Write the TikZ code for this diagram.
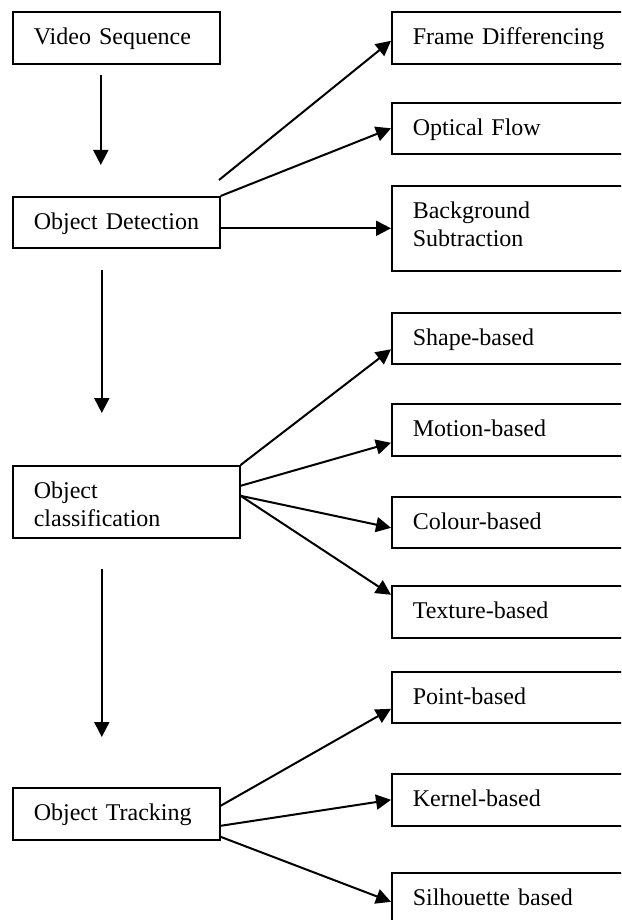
\documentclass[tikz,border=0pt]{standalone}
\usepackage{fontspec}
\setmainfont{Liberation Serif}
\usetikzlibrary{arrows,arrows.meta}

\begin{document}
\begin{tikzpicture}[x=1pt,y=-1pt,
    box/.style={draw, rectangle, line width=1.6pt, anchor=north west,
        align=left, inner xsep=0pt, inner ysep=0pt, text height=33pt,
        execute at begin node={\leftskip=21pt},
        font=\fontsize{24}{27.6}\selectfont},
    stage/.style={box, text width=207pt},
    method/.style={box, text width=260pt},
    link/.style={line width=2pt, -{Triangle[length=15pt,width=15pt]}}]
% Fix the page size first,
% the boxes on the right run
% past the edge and are cut off
\useasboundingbox (0,0) rectangle (621,920);
\clip (0,0) rectangle (621,920);
% The main steps down the left side
\node[stage, text depth=19pt] (vs) at (12,11) {Video Sequence};
\node[stage, text depth=18pt] (od) at (12,196) {Object Detection};
\node[stage, text depth=39pt, text width=227pt] (oc) at (12,465) {Object\\classification};
\node[stage, text depth=19pt] (ot) at (12,787) {Object Tracking};
% The methods for each step
% on the right side
\node[method, text depth=19pt] (fd) at (391,11) {Frame Differencing};
\node[method, text depth=18pt] (of) at (391,102) {Optical Flow};
\node[method, text depth=52pt] (bs) at (391,185) {Background\\Subtraction};
\node[method, text depth=18pt] (sb) at (391,312) {Shape-based};
\node[method, text depth=19pt] (mb) at (391,403) {Motion-based};
\node[method, text depth=18pt] (cb) at (391,496) {Colour-based};
\node[method, text depth=19pt] (tb) at (391,585) {Texture-based};
\node[method, text depth=18pt] (pb) at (391,671) {Point-based};
\node[method, text depth=19pt] (kb) at (391,773) {Kernel-based};
\node[method, text depth=19pt] (sil) at (391,872) {Silhouette based};
% Arrows down between the steps,
% they do not touch the boxes
\draw[link] ([xshift=-15.5pt,yshift=-10pt]vs.south) -- ([xshift=-15.5pt,yshift=31pt]od.north);
\draw[link] ([xshift=-14.5pt,yshift=-21pt]od.south) -- ([xshift=-24.5pt,yshift=52pt]oc.north);
\draw[link] ([xshift=-24.5pt,yshift=-30pt]oc.south) -- ([xshift=-14.5pt,yshift=50pt]ot.north);
% Object Detection
\coordinate (odtop) at (219,180);
\draw[link] (odtop) -- ([yshift=-3pt]fd.west);
\draw[link] (od.north east) -- (of.west);
\draw[link] (od.east |- bs.west) -- (bs.west);
% Object classification
\draw[link] (oc.north east) -- ([yshift=-11pt]sb.west);
\draw[link] ([yshift=16pt]oc.east) -- ([yshift=-13pt]mb.west);
\draw[link] ([yshift=6pt]oc.east) -- ([yshift=-5.5pt]cb.west);
\draw[link] ([yshift=6pt]oc.east) -- ([yshift=17pt]tb.west);
% Object Tracking
\draw[link] ([yshift=8pt]ot.east) -- ([yshift=-11.5pt]pb.west);
\draw[link] ([yshift=-12pt]ot.east) -- (kb.west);
\draw[link] ([yshift=-23pt]ot.east) -- ([yshift=-3pt]sil.west);
\end{tikzpicture}
\end{document}
